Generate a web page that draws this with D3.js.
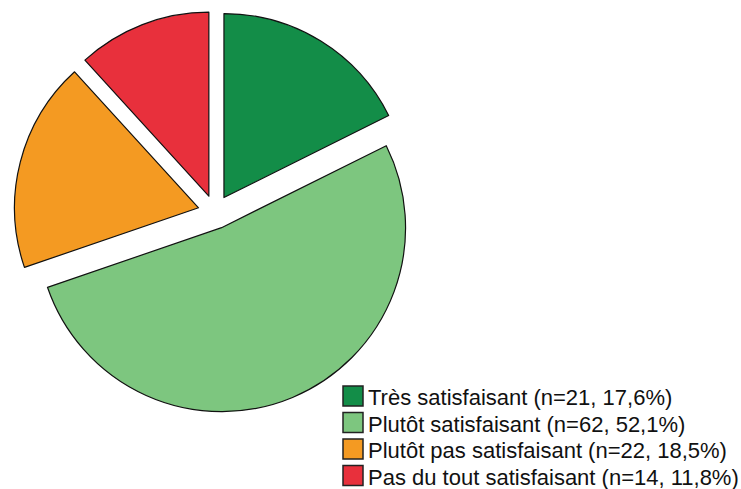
<meta charset="utf-8">
<style>
  body { margin: 0; background: #fff; }
  .slice path {
    stroke: #111;
    stroke-width: 1.2px;
    stroke-linejoin: round;
  }
  .legend text {
    font-family: 'Liberation Sans', Arial, sans-serif;
    font-size: 22px;
    fill: #111;
  }
  .legend rect {
    stroke: #222;
    stroke-width: 1.5px;
  }
</style>
<body>
  <div id="chart"></div>

<script src="https://d3js.org/d3.v7.min.js"></script>
<script>
var categories = ['Très satisfaisant', 'Plutôt satisfaisant', 'Plutôt pas satisfaisant', 'Pas du tout satisfaisant'];
var counts = [21, 62, 22, 14];
var colors = ['#138d48', '#7dc67f', '#f49a22', '#e8303c'];

var width = 741;
var height = 489;

var radius = 184;
var explode = 17;
var cx = 215, cy = 212;

var total = d3.sum(counts);
var pctFormat = function (v) {
  return (v / total * 100).toFixed(1).replace('.', ',');
};

var data = categories.map(function (c, i) {
  return { label: c, n: counts[i], color: colors[i] };
});

var svg = d3.select('#chart').append('svg')
    .attr('width', width)
    .attr('height', height);

var pie = d3.pie()
    .sort(null)
    .value(function (d) { return d.n; });

var arc = d3.arc()
    .innerRadius(0)
    .outerRadius(radius);

svg.append('g')
    .attr('class', 'slice')
    .attr('transform', 'translate(' + cx + ',' + cy + ')')
  .selectAll('path')
    .data(pie(data))
    .enter().append('path')
    .attr('d', arc)
    .attr('fill', function (d) { return d.data.color; })
    .attr('transform', function (d) {
      // push each slice out along its middle angle
      var mid = (d.startAngle + d.endAngle) / 2;
      return 'translate(' + (Math.sin(mid) * explode) + ',' + (-Math.cos(mid) * explode) + ')';
    });

var row = d3.scaleBand()
    .domain(categories)
    .range([386, 492])
    .paddingInner(0);

var legend = svg.append('g')
    .attr('class', 'legend')
  .selectAll('g')
    .data(data)
    .enter().append('g')
    .attr('transform', function (d) { return 'translate(343,' + row(d.label) + ')'; });

legend.append('rect')
    .attr('width', 20)
    .attr('height', 20)
    .attr('fill', function (d) { return d.color; });

legend.append('text')
    .attr('x', 25)
    .attr('y', 19)
    .text(function (d) {
      return d.label + ' (n=' + d.n + ', ' + pctFormat(d.n) + '%)';
    });
</script>
</body>
